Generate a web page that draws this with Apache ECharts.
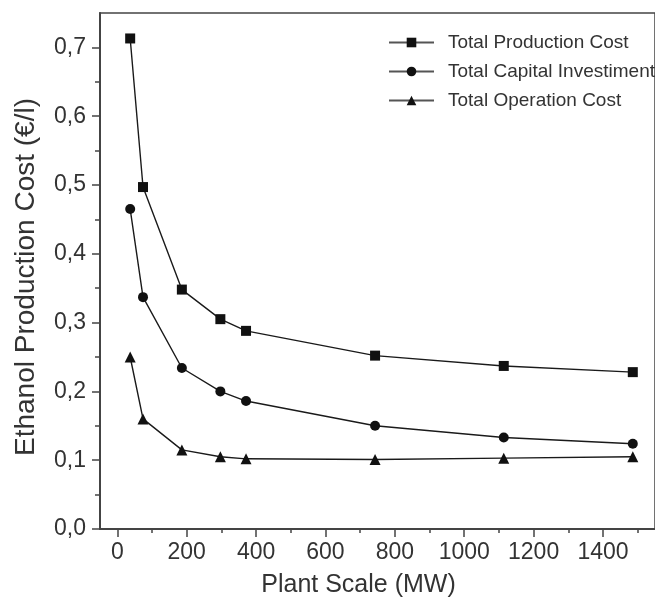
<!DOCTYPE html>
<html>
<head>
<meta charset="utf-8">
<script src="https://cdn.jsdelivr.net/npm/echarts@6/dist/echarts.min.js"></script>
<style>
  html, body { margin: 0; padding: 0; background: #fff; }
  #chart { width: 655px; height: 603px; }
</style>
</head>
<body>
<div id="chart"></div>
<script>
// plant scale (MW)
var plantScale = [37, 74, 186, 297, 371, 743, 1114, 1486];
// cost (€/l)
var totalProduction = [0.713, 0.497, 0.348, 0.305, 0.288, 0.252, 0.237, 0.228];
var totalCapital = [0.465, 0.337, 0.234, 0.200, 0.186, 0.150, 0.133, 0.124];
var totalOperation = [0.250, 0.160, 0.115, 0.105, 0.102, 0.101, 0.103, 0.105];

var seriesNames = ['Total Production Cost', 'Total Capital Investiment', 'Total Operation Cost'];
var xTicks = [0, 200, 400, 600, 800, 1000, 1200, 1400];
var yTicks = [0, 0.1, 0.2, 0.3, 0.4, 0.5, 0.6, 0.7];

function pairs(ys) {
  return plantScale.map(function (x, i) { return [x, ys[i]]; });
}

var font = '"Liberation Sans", Arial, sans-serif';
var ink = '#333';

var chart = echarts.init(document.getElementById('chart'));

function line(name, data, symbol, size) {
  return {
    name: name,
    type: 'line',
    data: pairs(data),
    symbol: symbol,
    symbolSize: size,
    showAllSymbol: true,
    lineStyle: { color: '#1a1a1a', width: 1.4 },
    itemStyle: { color: '#111' },
    emphasis: { disabled: true },
    animation: false
  };
}

chart.setOption({
  animation: false,
  grid: {
    left: 100, top: 13, bottom: 72, right: -9,
    show: true, borderColor: '#444', borderWidth: 1.5
  },
  legend: {
    orient: 'vertical',
    left: 383, top: 28,
    itemWidth: 45, itemHeight: 12, itemGap: 10,
    lineStyle: { color: '#555', width: 2 },
    textStyle: { fontFamily: font, fontSize: 19, color: ink, padding: [0, 0, 0, 9] },
    data: seriesNames
  },
  xAxis: {
    type: 'value',
    min: -50, max: 1550,
    splitNumber: 8,
    name: 'Plant Scale (MW)',
    nameLocation: 'middle',
    nameGap: 44,
    nameTextStyle: { fontFamily: font, fontSize: 25, color: ink, padding: [0, 38, 0, 0] },
    axisLine: { onZero: false, lineStyle: { color: '#444', width: 2 } },
    axisTick: { inside: false, length: 8, customValues: xTicks, lineStyle: { color: '#444', width: 1.5 } },
    minorTick: { show: true, splitNumber: 2, length: 4, lineStyle: { color: '#444', width: 1.5 } },
    axisLabel: {
      customValues: xTicks,
      fontFamily: font, fontSize: 23, color: ink, margin: 12,
      formatter: function (v) { return String(Math.round(v)); }
    },
    splitLine: { show: false }
  },
  yAxis: {
    type: 'value',
    min: 0, max: 0.75,
    interval: 0.1,
    name: 'Ethanol Production Cost (€/l)',
    nameLocation: 'middle',
    nameGap: 60,
    nameTextStyle: { fontFamily: font, fontSize: 28, color: ink, padding: [0, 12, 0, 0] },
    axisLine: { show: true, onZero: false, lineStyle: { color: '#444', width: 2 } },
    axisTick: { show: true, inside: false, length: 8, customValues: yTicks, lineStyle: { color: '#444', width: 1.5 } },
    minorTick: { show: true, splitNumber: 2, length: 5, lineStyle: { color: '#444', width: 1.5 } },
    axisLabel: {
      customValues: yTicks,
      fontFamily: font, fontSize: 23, color: ink, margin: 14,
      formatter: function (v) { return v.toFixed(1).replace('.', ','); }
    },
    splitLine: { show: false }
  },
  series: [
    line(seriesNames[0], totalProduction, 'rect', 10),
    line(seriesNames[1], totalCapital, 'circle', 10),
    line(seriesNames[2], totalOperation, 'triangle', 11)
  ]
});
</script>
</body>
</html>
